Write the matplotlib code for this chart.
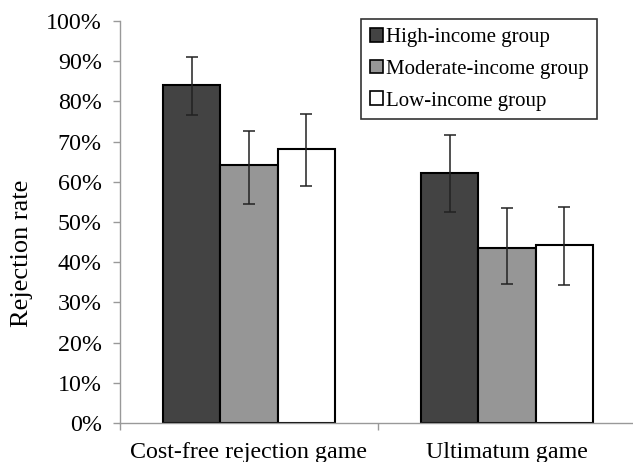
import matplotlib
matplotlib.use("Agg")
import matplotlib.pyplot as plt
from matplotlib.patches import Patch
import numpy as np

categories = ["Cost-free rejection game", "Ultimatum game"]
groups = ["High-income group", "Moderate-income group", "Low-income group"]
values = {
    "High-income group": [84.2, 62.1],
    "Moderate-income group": [64.3, 43.6],
    "Low-income group": [68.2, 44.4],
}
err_upper = {
    "High-income group": [91.0, 71.6],
    "Moderate-income group": [72.6, 53.5],
    "Low-income group": [76.9, 53.7],
}
err_lower = {
    "High-income group": [76.6, 52.6],
    "Moderate-income group": [54.4, 34.7],
    "Low-income group": [59.0, 34.4],
}
colors = ["#434343", "#969696", "#ffffff"]
yticks = [0, 10, 20, 30, 40, 50, 60, 70, 80, 90, 100]

plt.rcParams["font.family"] = ["Liberation Serif", "DejaVu Serif"]

fig = plt.figure(figsize=(6.33, 4.62), dpi=100)
ax = fig.add_axes([120/633, 1-423/462, 516/633, (423-21)/462])

x = np.arange(len(categories))
w = 0.222
for i, g in enumerate(groups):
    pos = x + (i - 1) * w
    v = np.array(values[g])
    lo = v - np.array(err_lower[g])
    hi = np.array(err_upper[g]) - v
    ax.bar(pos, v, width=w, color=colors[i], edgecolor="black", linewidth=1.5, zorder=2)
    ax.errorbar(pos, v, yerr=[lo, hi], fmt="none", ecolor="#222222", elinewidth=1.1,
                capsize=4.3, capthick=1.1, zorder=3)

ax.set_xlim(-0.5, 1.5)
ax.set_ylim(0, 100)
ax.set_yticks(yticks)
ax.set_yticklabels([f"{t}%" for t in yticks], fontsize=17.3)
ax.set_xticks(x)
ax.set_xticklabels(categories, fontsize=17.3)
ax.tick_params(axis="x", length=0, pad=14)
ax.set_xticks([-0.5, 0.5, 1.5], minor=True)
ax.tick_params(axis="x", which="minor", length=5, color="#999999", width=1)
ax.tick_params(axis="y", length=5, color="#999999", width=1, pad=8)
for s in ["top", "right"]:
    ax.spines[s].set_visible(False)
for s in ["left", "bottom"]:
    ax.spines[s].set_color("#999999")
    ax.spines[s].set_linewidth(1)

fig.text(22/633, 1-253/462, "Rejection rate", rotation=90, ha="center", va="center", fontsize=19)

handles = [Patch(facecolor=c, edgecolor="black", linewidth=1.2) for c in colors]
leg = fig.legend(handles, groups, loc="upper left", bbox_to_anchor=(361/633, 1-19/462),
                 fontsize=15, frameon=True, fancybox=False, edgecolor="black",
                 handlelength=0.65, handleheight=0.65, handletextpad=0.12,
                 labelspacing=0.6, borderpad=0.42, borderaxespad=0)
leg.get_frame().set_linewidth(1.2)

fig.savefig("out.png", dpi=100)
